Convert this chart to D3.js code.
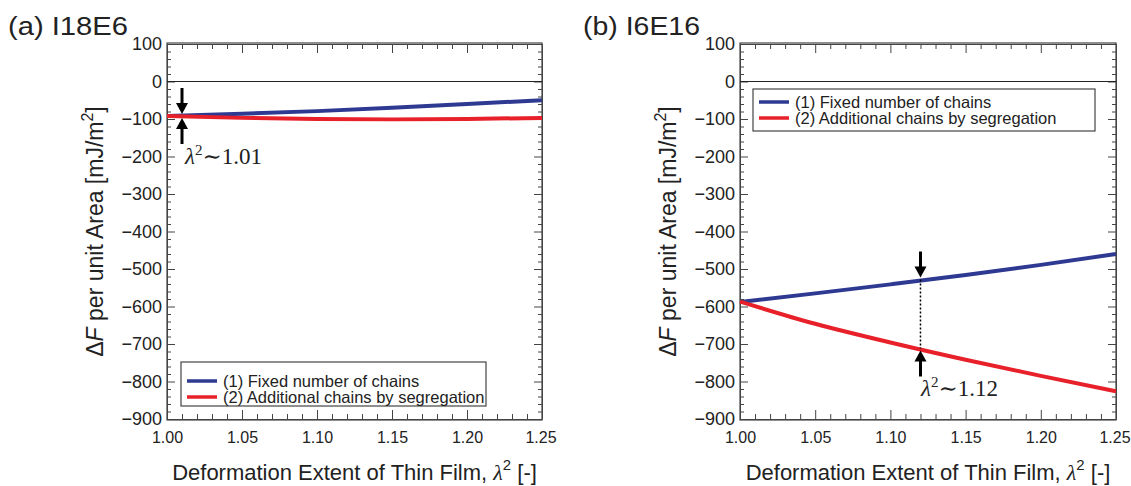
<!DOCTYPE html>
<meta charset="utf-8">
<head>
<script src="https://d3js.org/d3.v7.min.js"></script>
<style>
  body { margin: 0; background: #fff; }
  text { font-family: "Liberation Sans", Arial, sans-serif; fill: #222; }
  .axis path, .axis line { stroke: #444; }
  .axis text { font-size: 18px; font-family: "Liberation Sans", Arial, sans-serif; fill: #222; }
  .xaxis text { font-size: 16px; }
  .ann { font-family: "Liberation Serif", "DejaVu Serif", serif; font-size: 23px; }
</style>
</head>
<body>
<svg width="1131" height="486"></svg>
<script>
// x values (lambda^2) for every series
var lambda2 = [1.00, 1.05, 1.10, 1.15, 1.20, 1.25];
// (a) I18E6
var aFixed = [-92, -86, -79, -70, -60, -50];
var aAdded = [-92, -97, -100, -101, -100, -97];
// (b) I6E16
var bFixed = [-588, -565, -541, -516, -489, -460];
var bAdded = [-587, -646, -696, -742, -785, -826];

var xTicks = [1.00, 1.05, 1.10, 1.15, 1.20, 1.25];
var yTicks = [100, 0, -100, -200, -300, -400, -500, -600, -700, -800, -900];
var seriesNames = ["(1) Fixed number of chains", "(2) Additional chains by segregation"];
var colors = ["#2e3a92", "#e8202a"];

var svg = d3.select("svg");

function panel(o) {
  var x = d3.scaleLinear().domain([1.0, 1.25]).range([o.left, o.right]);
  var y = d3.scaleLinear().domain([-900, 100]).range([419, 44]);
  var g = svg.append("g");

  // frame
  g.append("rect").attr("x", o.left).attr("y", y(100) - 1)
    .attr("width", o.right - o.left).attr("height", y(-900) - y(100) + 2)
    .attr("fill", "none").attr("stroke", "#444").attr("stroke-width", 1.2);

  var minorY = d3.range(-900, 101, 20).filter(function(v) { return v % 100 !== 0; });
  var minorX = d3.range(100, 126, 1).map(function(v) { return v / 100; })
    .filter(function(v) { return Math.round(v * 100) % 5 !== 0; });

  // left axis
  g.append("g").attr("class", "axis").attr("transform", "translate(" + o.left + ",0)")
    .call(d3.axisLeft(y).tickValues(yTicks).tickSizeInner(-8).tickSizeOuter(0).tickPadding(5));
  g.append("g").attr("class", "axis").attr("transform", "translate(" + o.left + ",0)")
    .call(d3.axisLeft(y).tickValues(minorY).tickSizeInner(-4).tickSizeOuter(0).tickFormat(""))
    .select(".domain").remove();
  // right axis
  g.append("g").attr("class", "axis").attr("transform", "translate(" + o.right + ",0)")
    .call(d3.axisRight(y).tickValues(yTicks).tickSizeInner(-8).tickSizeOuter(0).tickFormat(""));
  g.append("g").attr("class", "axis").attr("transform", "translate(" + o.right + ",0)")
    .call(d3.axisRight(y).tickValues(minorY).tickSizeInner(-4).tickSizeOuter(0).tickFormat(""))
    .select(".domain").remove();
  // bottom axis
  g.append("g").attr("class", "axis xaxis").attr("transform", "translate(0," + y(-900) + ")")
    .call(d3.axisBottom(x).tickValues(xTicks).tickSizeInner(-9).tickSizeOuter(0).tickPadding(13)
      .tickFormat(d3.format(".2f")))
    .call(function(s) { s.selectAll(".tick:last-of-type text").attr("dx", "-1.5"); });
  g.append("g").attr("class", "axis").attr("transform", "translate(0," + y(-900) + ")")
    .call(d3.axisBottom(x).tickValues(minorX).tickSizeInner(-5).tickSizeOuter(0).tickFormat(""))
    .select(".domain").remove();
  // top axis
  g.append("g").attr("class", "axis").attr("transform", "translate(0," + y(100) + ")")
    .call(d3.axisTop(x).tickValues(xTicks).tickSizeInner(-9).tickSizeOuter(0).tickFormat(""));
  g.append("g").attr("class", "axis").attr("transform", "translate(0," + y(100) + ")")
    .call(d3.axisTop(x).tickValues(minorX).tickSizeInner(-5).tickSizeOuter(0).tickFormat(""))
    .select(".domain").remove();

  // zero line
  g.append("line").attr("x1", o.left).attr("x2", o.right).attr("y1", y(0)).attr("y2", y(0))
    .attr("stroke", "#222").attr("stroke-width", 1.2);

  // series
  var line = d3.line().x(function(d, i) { return x(lambda2[i]); }).y(function(d) { return y(d); })
    .curve(d3.curveMonotoneX);
  [o.fixed, o.added].forEach(function(s, i) {
    g.append("path").datum(s).attr("d", line).attr("fill", "none")
      .attr("stroke", colors[i]).attr("stroke-width", 4);
  });

  // legend
  var lg = g.append("g").attr("transform", "translate(" + o.legX + "," + o.legY + ")");
  lg.append("rect").attr("width", o.legW).attr("height", o.legH).attr("fill", "#fff")
    .attr("stroke", "#444").attr("stroke-width", 1.2);
  seriesNames.forEach(function(n, i) {
    var yy = o.legRow + i * 16;
    lg.append("line").attr("x1", 6).attr("x2", 36).attr("y1", yy).attr("y2", yy)
      .attr("stroke", colors[i]).attr("stroke-width", 3.5);
    lg.append("text").attr("x", 42).attr("y", yy + 5.5).attr("font-size", "16.5px").text(n);
  });

  // title
  g.append("text").attr("x", o.titleX).attr("y", 35).attr("font-size", "26px")
    .attr("textLength", o.titleW).attr("lengthAdjust", "spacingAndGlyphs").text(o.title);

  // y label
  var yl = g.append("text").attr("transform", "translate(" + (o.left - 64) + "," + y(-400) + ") rotate(-90)")
    .attr("text-anchor", "middle").attr("font-size", "23px");
  yl.append("tspan").text("\u0394");
  yl.append("tspan").attr("font-style", "italic").text("F");
  yl.append("tspan").text(" per unit Area [mJ/m");
  yl.append("tspan").attr("dy", "-10").attr("font-size", "16px").text("2");
  yl.append("tspan").attr("dy", "10").text("]");

  // x label
  var xl = g.append("text").attr("x", (o.left + o.right) / 2).attr("y", 480)
    .attr("text-anchor", "middle").attr("font-size", "22px");
  xl.append("tspan").text("Deformation Extent of Thin Film, ");
  xl.append("tspan").attr("font-family", "Liberation Serif, serif").attr("font-style", "italic").text("\u03bb");
  xl.append("tspan").attr("dy", "-10").attr("font-size", "15px").text("2");
  xl.append("tspan").attr("dy", "10").text(" [-]");

  // annotation arrows
  var ax = x(o.annX), yTop = y(o.annTop), yBot = y(o.annBot);
  function arrow(xp, tipY, dir) {
    var shaft = 26;
    g.append("line").attr("x1", xp).attr("x2", xp).attr("y1", tipY - dir * shaft).attr("y2", tipY - dir * 8)
      .attr("stroke", "#000").attr("stroke-width", 3);
    g.append("path").attr("d", "M" + (xp - 6) + "," + (tipY - dir * 11) + "L" + (xp + 6) + "," + (tipY - dir * 11) + "L" + xp + "," + tipY + "Z")
      .attr("fill", "#000");
  }
  arrow(ax, yTop - 2, 1);
  arrow(ax, yBot + 2, -1);
  if (o.dotted) {
    g.append("line").attr("x1", ax).attr("x2", ax).attr("y1", yTop).attr("y2", yBot)
      .attr("stroke", "#000").attr("stroke-width", 1.5).attr("stroke-dasharray", "2,2");
  }
  var at = g.append("text").attr("class", "ann").attr("x", o.annTextX).attr("y", o.annTextY);
  at.append("tspan").attr("font-style", "italic").text("\u03bb");
  at.append("tspan").attr("dy", "-9").attr("font-size", "15px").text("2");
  at.append("tspan").attr("dy", "9").text("\u223c" + o.annLabel);
}

panel({ left: 167, right: 542, fixed: aFixed, added: aAdded, title: "(a) I18E6", titleX: 8, titleW: 120,
  legX: 181, legY: 362, legW: 305, legH: 44, legRow: 19, annX: 1.01, annTop: -92, annBot: -92, dotted: false,
  annTextX: 185, annTextY: 164, annLabel: "1.01" });
panel({ left: 740, right: 1116, fixed: bFixed, added: bAdded, title: "(b) I6E16", titleX: 583, titleW: 117,
  legX: 753, legY: 89, legW: 342, legH: 42, legRow: 13, annX: 1.12, annTop: -528, annBot: -712, dotted: true,
  annTextX: 921, annTextY: 396, annLabel: "1.12" });
</script>
</body>
